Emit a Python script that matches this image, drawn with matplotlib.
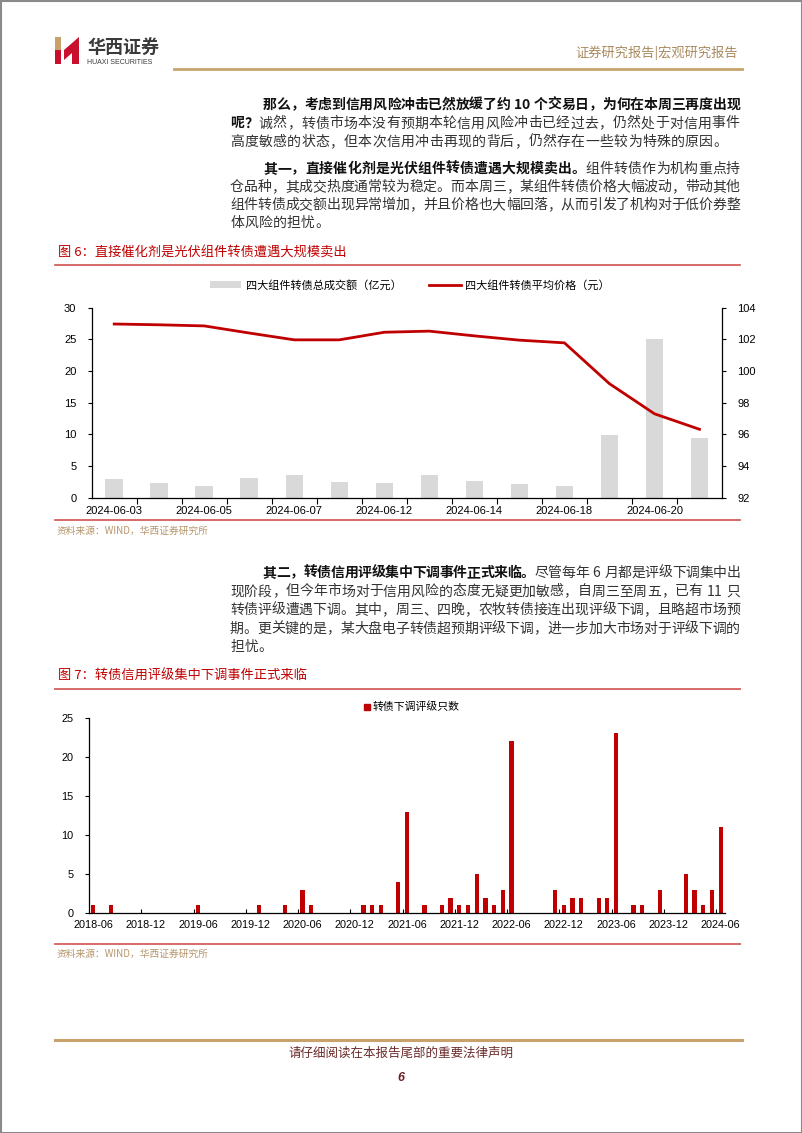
import matplotlib
matplotlib.use('Agg')
import matplotlib.pyplot as plt
from matplotlib.patches import Polygon, Rectangle, Patch
from matplotlib.lines import Line2D

plt.rcParams['font.family'] = ['Liberation Sans', 'Noto Sans CJK SC']

# 图6：四大组件转债
dates6 = ['2024-06-03', '2024-06-04', '2024-06-05', '2024-06-06', '2024-06-07',
          '2024-06-11', '2024-06-12', '2024-06-13', '2024-06-14', '2024-06-17',
          '2024-06-18', '2024-06-19', '2024-06-20', '2024-06-21']
turnover = [2.9, 2.3, 1.8, 3.1, 3.6, 2.5, 2.3, 3.6, 2.6, 2.1, 1.8, 9.9, 25.1, 9.5]
avg_price = [102.97, 102.92, 102.85, 102.40, 101.97, 101.97, 102.45, 102.52,
             102.22, 101.95, 101.78, 99.20, 97.30, 96.32]

# 图7：转债下调评级只数（按月）
down_months = ['2018-06', '2018-08', '2019-06', '2020-01', '2020-04', '2020-06', '2020-07',
               '2021-01', '2021-02', '2021-03', '2021-05', '2021-06', '2021-08', '2021-10',
               '2021-11', '2021-12', '2022-01', '2022-02', '2022-03', '2022-04', '2022-05',
               '2022-06', '2022-11', '2022-12', '2023-01', '2023-02', '2023-04', '2023-05',
               '2023-06', '2023-08', '2023-09', '2023-11', '2024-02', '2024-03', '2024-04',
               '2024-05', '2024-06']
down_counts = [1, 1, 1, 1, 1, 3, 1, 1, 1, 1, 4, 13, 1, 1, 2, 1, 1, 5, 2, 1, 3, 22,
               3, 1, 2, 2, 2, 2, 23, 1, 1, 3, 5, 3, 1, 3, 11]

months7 = []
for y in range(2018, 2025):
    for m in range(1, 13):
        if (y, m) >= (2018, 6) and (y, m) <= (2024, 6):
            months7.append(f'{y}-{m:02d}')
counts7 = [0] * len(months7)
for mo, c in zip(down_months, down_counts):
    counts7[months7.index(mo)] = c

W, H = 802, 1133
fig = plt.figure(figsize=(W / 100, H / 100), dpi=100)
page = fig.add_axes([0, 0, 1, 1])
page.set_xlim(0, W)
page.set_ylim(H, 0)
page.axis('off')

CJK = ['Noto Sans CJK SC', 'DejaVu Sans']
RED = '#c00000'
GOLD = '#c9a26b'


def put_line(segs, x0, y, x1=None, size=10):
    chars = [(c, b) for t, b in segs for c in t]
    units = [0.3 if c == ' ' else (0.55 if c.isascii() else 1.0) for c, _ in chars]
    pitch = 14.2 if x1 is None else (x1 - x0) / sum(units)
    x = x0
    for (c, b), u in zip(chars, units):
        w = pitch * u
        if c != ' ':
            page.text(x + w / 2, y, c, ha='center', va='center', fontsize=size,
                      fontweight='bold' if b else 'normal',
                      color='#111111' if b else '#333333', family=CJK)
        x += w


# 页面边框
page.add_patch(Rectangle((0.5, 0.5), W - 1, H - 1, fill=False, ec='#8a8a8a', lw=1.5))

# 页眉
page.add_patch(Rectangle((55, 37), 6, 13, fc='#c9a26b', ec='none'))
page.add_patch(Rectangle((55, 50), 6, 14, fc='#c8102e', ec='none'))
page.add_patch(Polygon([(64, 50), (79, 37), (79, 64), (72, 64), (72, 53), (64, 60)],
                       fc='#c8102e', ec='none'))
page.text(87, 47, '华西证券', fontsize=13, fontweight='bold', color='#3a3a3a',
          va='center', family=CJK)
page.text(87, 62, 'HUAXI SECURITIES', fontsize=5, color='#3a3a3a', va='center')
page.text(738, 53, '证券研究报告|宏观研究报告', fontsize=9.5, color='#a88a5e',
          ha='right', va='center', family=CJK)
page.plot([174, 742], [69, 69], color=GOLD, lw=2)

# 正文
L, R, IND = 230, 740, 263
put_line([('那么，考虑到信用风险冲击已然放缓了约 10 个交易日，为何在本周三再度出现', True)], IND, 105, R)
put_line([('呢？', True), ('诚然，转债市场本没有预期本轮信用风险冲击已经过去，仍然处于对信用事件', False)], L, 123.5, R)
put_line([('高度敏感的状态，但本次信用冲击再现的背后，仍然存在一些较为特殊的原因。', False)], L, 142)

put_line([('其一，直接催化剂是光伏组件转债遭遇大规模卖出。', True), ('组件转债作为机构重点持', False)], IND, 169, R)
put_line([('仓品种，其成交热度通常较为稳定。而本周三，某组件转债价格大幅波动，带动其他', False)], L, 187, R)
put_line([('组件转债成交额出现异常增加，并且价格也大幅回落，从而引发了机构对于低价券整', False)], L, 205, R)
put_line([('体风险的担忧。', False)], L, 223)

put_line([('其二，转债信用评级集中下调事件正式来临。', True), ('尽管每年 6 月都是评级下调集中出', False)], IND, 573, R)
put_line([('现阶段，但今年市场对于信用风险的态度无疑更加敏感，自周三至周五，已有 11 只', False)], L, 591.5, R)
put_line([('转债评级遭遇下调。其中，周三、四晚，农牧转债接连出现评级下调，且略超市场预', False)], L, 610, R)
put_line([('期。更关键的是，某大盘电子转债超预期评级下调，进一步加大市场对于评级下调的', False)], L, 628.5, R)
put_line([('担忧。', False)], L, 647)

# 图标题与分隔线
page.text(58, 253, '图 6：直接催化剂是光伏组件转债遭遇大规模卖出', fontsize=9.5, color=RED,
          va='center', family=CJK)
page.plot([55, 740], [265, 265], color='#d05050', lw=1.2)
page.plot([55, 740], [520, 520], color='#d05050', lw=1.2)
page.text(57, 531, '资料来源：WIND，华西证券研究所', fontsize=7, color='#b5956a',
          va='center', family=CJK)

page.text(58, 676, '图 7：转债信用评级集中下调事件正式来临', fontsize=9.5, color=RED,
          va='center', family=CJK)
page.plot([55, 740], [689, 689], color='#d86a6a', lw=1.4)
page.plot([55, 740], [944, 944], color='#d86a6a', lw=1.4)
page.text(57, 954, '资料来源：WIND，华西证券研究所', fontsize=7, color='#b5956a',
          va='center', family=CJK)

# 页脚
page.plot([55, 742], [1040, 1040], color=GOLD, lw=2.2)
page.text(401, 1053, '请仔细阅读在本报告尾部的重要法律声明', fontsize=9, color='#6b2a2a',
          ha='center', va='center', family=CJK)
page.text(401, 1078, '6', fontsize=9, color='#6b1f1f', fontweight='bold', style='italic',
          ha='center', va='center')

# ---- 图6 ----
ax1 = fig.add_axes([91.7 / W, 1 - 497.7 / H, (722 - 91.7) / W, (497.7 - 307.7) / H])
x6 = list(range(len(dates6)))
ax1.bar(x6, turnover, width=0.39, color='#d9d9d9', zorder=1)
ax1.set_xlim(-0.5, len(dates6) - 0.5)
ax1.set_ylim(0, 30)
ax1.set_yticks(range(0, 31, 5))
ax1.set_xticks(x6[::2])
ax1.set_xticklabels(dates6[::2])
ax1.set_xticks([i + 0.5 for i in x6[:-1]], minor=True)
ax1.tick_params(axis='x', which='major', length=0, labelsize=8, pad=6)
ax1.tick_params(axis='x', which='minor', length=4, direction='out', width=0.8)
ax1.tick_params(axis='y', length=3, labelsize=8, width=0.8, pad=8)
ax1.spines['top'].set_visible(False)
ax1.spines['right'].set_visible(False)
for s in ['left', 'bottom']:
    ax1.spines[s].set_linewidth(0.9)

ax1r = ax1.twinx()
ax1r.plot(x6, avg_price, color=RED, lw=2, zorder=3)
ax1r.set_ylim(92, 104)
ax1r.set_yticks(range(92, 105, 2))
ax1r.tick_params(axis='y', length=3, labelsize=8, width=0.8, pad=8)
ax1r.spines['top'].set_visible(False)
ax1r.spines['left'].set_visible(False)
ax1r.spines['bottom'].set_visible(False)
ax1r.spines['right'].set_linewidth(0.9)

fig.legend(handles=[Patch(facecolor='#d9d9d9', edgecolor='none', label='四大组件转债总成交额（亿元）'),
                    Line2D([], [], color=RED, lw=2, label='四大组件转债平均价格（元）')],
           loc='center', bbox_to_anchor=(410 / W, 1 - 285 / H), ncol=2, frameon=False,
           fontsize=8, handlelength=2.8, handleheight=0.5, columnspacing=2.5,
           handletextpad=0.4)

# ---- 图7 ----
ax2 = fig.add_axes([89 / W, 1 - 913.3 / H, (725 - 89) / W, (913.3 - 717.7) / H])
x7 = list(range(len(months7)))
ax2.bar(x7, counts7, width=0.48, color=RED, zorder=2)
ax2.set_xlim(-0.5, len(months7) - 0.5)
ax2.set_ylim(0, 25)
ax2.set_yticks(range(0, 26, 5))
ax2.set_xticks(x7[::6])
ax2.set_xticklabels(months7[::6])
ax2.set_xticks([i - 0.5 for i in x7[6::6]], minor=True)
ax2.tick_params(axis='x', which='major', length=0, labelsize=7.8, pad=5)
ax2.tick_params(axis='x', which='minor', length=3, direction='in', width=0.8)
ax2.tick_params(axis='y', length=3, labelsize=7.8, width=0.8, pad=8)
ax2.spines['top'].set_visible(False)
ax2.spines['right'].set_visible(False)
for s in ['left', 'bottom']:
    ax2.spines[s].set_linewidth(0.9)

fig.legend(handles=[Line2D([], [], color=RED, marker='s', markersize=4, linestyle='none',
                           label='转债下调评级只数')],
           loc='center', bbox_to_anchor=(412 / W, 1 - 707 / H), frameon=False,
           fontsize=7.8, handlelength=0.6, handletextpad=0.2)

fig.savefig('out.png', dpi=100)
